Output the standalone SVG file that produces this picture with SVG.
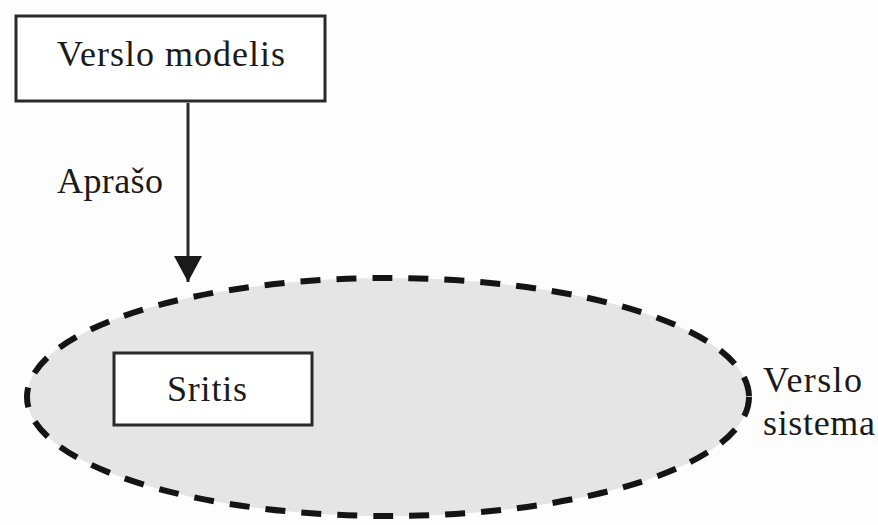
<svg xmlns="http://www.w3.org/2000/svg" width="878" height="525" viewBox="0 0 878 525">
  <defs>
    <marker id="arrowhead" markerWidth="26" markerHeight="28" refX="26" refY="14" orient="auto" markerUnits="userSpaceOnUse" viewBox="0 0 26 28">
      <path d="M0,0 L26,14 L0,28 Z" fill="#1a1a1a"/>
    </marker>
    <style>
      .label { font-family: "Liberation Serif", "Times New Roman", serif; font-size: 36px; fill: #1a1a1a; }
      .box { fill: #ffffff; stroke: #2a2a2a; stroke-width: 3; }
      .system { fill: #e5e5e5; stroke: #141414; stroke-width: 6; stroke-dasharray: 20 16; }
      .edge { stroke: #2a2a2a; stroke-width: 3; fill: none; }
    </style>
  </defs>
  <rect width="878" height="525" fill="#fdfdfd"/>

  <g id="verslo-sistema">
    <ellipse class="system" cx="388" cy="397" rx="361" ry="119"/>
    <text class="label" x="763" y="392" textLength="99">Verslo</text>
    <text class="label" x="763" y="435" textLength="112">sistema</text>
  </g>

  <g id="verslo-modelis">
    <rect class="box" x="16" y="16" width="309" height="85"/>
    <text class="label" x="57" y="66" textLength="228">Verslo modelis</text>
  </g>

  <g id="sritis">
    <rect class="box" x="114" y="353" width="198" height="72"/>
    <text class="label" x="167" y="401" textLength="80">Sritis</text>
  </g>

  <g id="connectors">
    <line class="edge" x1="188" y1="103" x2="188" y2="282" marker-end="url(#arrowhead)"/>
    <text class="label" x="57" y="193" textLength="106">Aprašo</text>
  </g>
</svg>
